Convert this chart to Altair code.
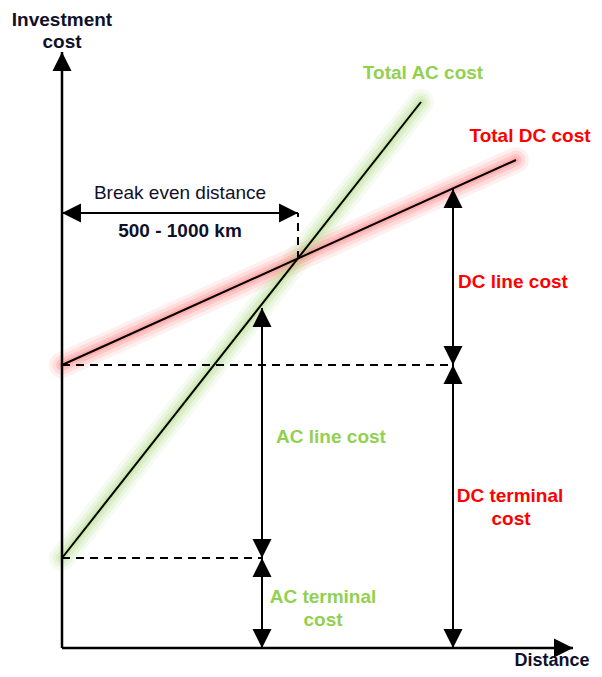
import altair as alt
import pandas as pd

FONT = "Liberation Sans"
GREEN = "#92d050"
RED = "#ff0000"
INK = "#10102a"

# ---- conceptual values (abstract distance / cost units, origin at 0,0) ----
axis_x_end = 511
axis_y_end = 596
ac_terminal = 90
dc_terminal = 283
ac_line = [(0, 90), (359, 546)]
dc_line = [(0, 283), (454, 488)]
break_even = (236, 389)
break_even_bar_y = 435
ac_marker = (200, 340)   # x position, top of AC line-cost arrow
dc_marker = (391, 459)   # x position, top of DC line-cost arrow

# ---- label texts ----
labels = [
    # text, x, y, color, style, size
    ("Investment", 0, 628, INK, "bold", 19),
    ("cost", 0, 606, INK, "bold", 19),
    ("Distance", 490, -13, INK, "bold", 18),
    ("Total AC cost", 361, 575, GREEN, "bold", 19),
    ("Total DC cost", 468, 512, RED, "bold", 19),
    ("DC line cost", 451, 366, RED, "bold", 19),
    ("DC terminal", 448, 152, RED, "bold", 19),
    ("cost", 449, 129, RED, "bold", 19),
    ("AC line cost", 269, 211, GREEN, "bold", 19),
    ("AC terminal", 261, 51, GREEN, "bold", 19),
    ("cost", 261, 28, GREEN, "bold", 19),
    ("Break even  distance", 118, 455, INK, "normal", 19),
    ("500 - 1000 km", 118, 417, INK, "bold", 19),
]

# ---- build tables ----
solid = pd.DataFrame([
    dict(x=0, y=0, x2=0, y2=axis_y_end, w=2.5),
    dict(x=0, y=0, x2=axis_x_end, y2=0, w=2.5),
    dict(x=ac_line[0][0], y=ac_line[0][1], x2=ac_line[1][0], y2=ac_line[1][1], w=2),
    dict(x=dc_line[0][0], y=dc_line[0][1], x2=dc_line[1][0], y2=dc_line[1][1], w=2),
    dict(x=0, y=break_even_bar_y, x2=break_even[0], y2=break_even_bar_y, w=2),
    dict(x=ac_marker[0], y=0, x2=ac_marker[0], y2=ac_marker[1], w=2),
    dict(x=dc_marker[0], y=0, x2=dc_marker[0], y2=dc_marker[1], w=2),
])
dashed = pd.DataFrame([
    dict(x=0, y=dc_terminal, x2=dc_marker[0], y2=dc_terminal),
    dict(x=0, y=ac_terminal, x2=ac_marker[0], y2=ac_terminal),
    dict(x=break_even[0], y=break_even[1], x2=break_even[0], y2=break_even_bar_y),
])
glow = pd.DataFrame([
    dict(x=ac_line[0][0], y=ac_line[0][1], x2=ac_line[1][0], y2=ac_line[1][1], c="#a6d873"),
    dict(x=dc_line[0][0], y=dc_line[0][1], x2=dc_line[1][0], y2=dc_line[1][1], c="#ff6a6a"),
])

heads = {
    "up": [(0, axis_y_end), (ac_marker[0], ac_marker[1]), (ac_marker[0], ac_terminal),
           (dc_marker[0], dc_marker[1]), (dc_marker[0], dc_terminal)],
    "down": [(ac_marker[0], ac_terminal), (ac_marker[0], 0),
             (dc_marker[0], dc_terminal), (dc_marker[0], 0)],
    "left": [(0, break_even_bar_y)],
    "right": [(axis_x_end, 0), (break_even[0], break_even_bar_y)],
}
paths = {
    "up": "M0,0L1,2L-1,2Z",
    "down": "M0,0L1,-2L-1,-2Z",
    "left": "M0,0L2,-1L2,1Z",
    "right": "M0,0L-2,-1L-2,1Z",
}

lab = pd.DataFrame(labels, columns=["text", "x", "y", "color", "style", "size"])

xs = alt.Scale(domain=[-54, 532], nice=False, zero=False)
ys = alt.Scale(domain=[-21, 640], nice=False, zero=False)
X = alt.X("x:Q", scale=xs, axis=None)
Y = alt.Y("y:Q", scale=ys, axis=None)

layers = []
for w, op in [(26, 0.10), (19, 0.14), (12, 0.2), (6, 0.25)]:
    layers.append(
        alt.Chart(glow).mark_rule(strokeWidth=w, opacity=op, strokeCap="round").encode(
            x=X, y=Y, x2="x2:Q", y2="y2:Q", color=alt.Color("c:N", scale=None)
        )
    )

layers.append(
    alt.Chart(solid).mark_rule(color="black").encode(
        x=X, y=Y, x2="x2:Q", y2="y2:Q", strokeWidth=alt.StrokeWidth("w:Q", scale=None)
    )
)
layers.append(
    alt.Chart(dashed).mark_rule(color="black", strokeWidth=2, strokeDash=[8, 6]).encode(
        x=X, y=Y, x2="x2:Q", y2="y2:Q"
    )
)
for d, pts in heads.items():
    df = pd.DataFrame(pts, columns=["x", "y"])
    layers.append(
        alt.Chart(df).mark_point(shape=paths[d], filled=True, size=361, color="black",
                                 opacity=1, strokeWidth=0).encode(x=X, y=Y)
    )
for style in ["bold", "normal"]:
    layers.append(
        alt.Chart(lab[lab["style"] == style]).mark_text(
            font=FONT, fontWeight=style, align="center", baseline="middle"
        ).encode(x=X, y=Y, text="text:N", color=alt.Color("color:N", scale=None),
                 size=alt.Size("size:Q", scale=None))
    )

chart = alt.layer(*layers).properties(
    width=586, height=661, padding=0, autosize="none", background="white"
).configure_view(stroke=None)

chart.save("out.html", embed_options={"renderer": "svg", "actions": False})
